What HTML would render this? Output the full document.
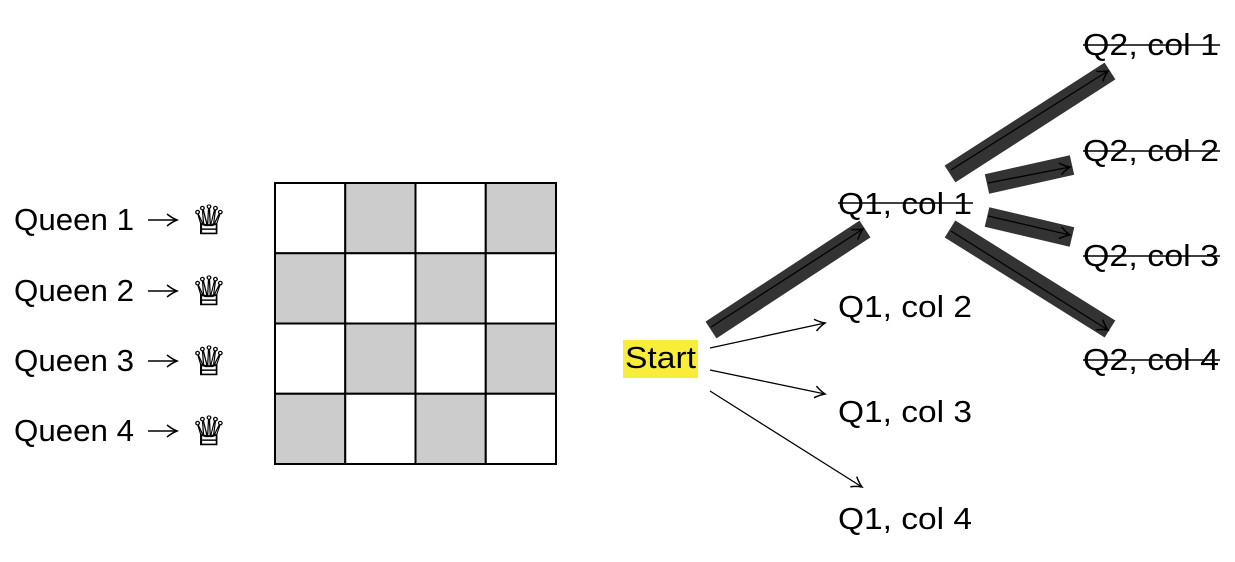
<!DOCTYPE html>
<html><head><meta charset="utf-8"><style>
html,body{margin:0;padding:0;background:#fff;}
svg{display:block;}
text{font-family:"Liberation Sans","DejaVu Sans",sans-serif;font-size:31px;fill:#000;}
.q{font-family:"DejaVu Sans",sans-serif;font-size:40px;stroke:#000;stroke-width:0.6;}
</style></head><body>
<svg width="1235" height="562" viewBox="0 0 1235 562" xmlns="http://www.w3.org/2000/svg">
<defs>
<marker id="a" markerWidth="14" markerHeight="14" refX="11" refY="7" orient="auto" markerUnits="userSpaceOnUse">
<path d="M1,1 Q6,5 11,7 Q6,9 1,13" fill="none" stroke="#000" stroke-width="1.5"/>
</marker>
</defs>
<!-- queen labels -->
<g>
<text x="14" y="230" textLength="120" lengthAdjust="spacingAndGlyphs">Queen 1</text>
<text x="14" y="301" textLength="120" lengthAdjust="spacingAndGlyphs">Queen 2</text>
<text x="14" y="371" textLength="120" lengthAdjust="spacingAndGlyphs">Queen 3</text>
<text x="14" y="441" textLength="120" lengthAdjust="spacingAndGlyphs">Queen 4</text>
</g>
<g stroke="#000" stroke-width="1.6" marker-end="url(#a)">
<line x1="148" y1="220" x2="177" y2="220"/>
<line x1="148" y1="291" x2="177" y2="291"/>
<line x1="148" y1="361" x2="177" y2="361"/>
<line x1="148" y1="431" x2="177" y2="431"/>
</g>
<text class="q" x="191" y="234">♕</text>
<text class="q" x="191" y="305">♕</text>
<text class="q" x="191" y="375">♕</text>
<text class="q" x="191" y="445">♕</text>
<!-- board -->
<g stroke="#000" stroke-width="2">
<rect x="275" y="183" width="70.25" height="70.25" fill="#fff"/>
<rect x="345.25" y="183" width="70.25" height="70.25" fill="#ccc"/>
<rect x="415.5" y="183" width="70.25" height="70.25" fill="#fff"/>
<rect x="485.75" y="183" width="70.25" height="70.25" fill="#ccc"/>
<rect x="275" y="253.25" width="70.25" height="70.25" fill="#ccc"/>
<rect x="345.25" y="253.25" width="70.25" height="70.25" fill="#fff"/>
<rect x="415.5" y="253.25" width="70.25" height="70.25" fill="#ccc"/>
<rect x="485.75" y="253.25" width="70.25" height="70.25" fill="#fff"/>
<rect x="275" y="323.5" width="70.25" height="70.25" fill="#fff"/>
<rect x="345.25" y="323.5" width="70.25" height="70.25" fill="#ccc"/>
<rect x="415.5" y="323.5" width="70.25" height="70.25" fill="#fff"/>
<rect x="485.75" y="323.5" width="70.25" height="70.25" fill="#ccc"/>
<rect x="275" y="393.75" width="70.25" height="70.25" fill="#ccc"/>
<rect x="345.25" y="393.75" width="70.25" height="70.25" fill="#fff"/>
<rect x="415.5" y="393.75" width="70.25" height="70.25" fill="#ccc"/>
<rect x="485.75" y="393.75" width="70.25" height="70.25" fill="#fff"/>
</g>
<!-- start -->
<rect x="623" y="340" width="75" height="38" fill="#f8ee3a"/>
<text x="625" y="368" textLength="71" lengthAdjust="spacingAndGlyphs">Start</text>
<!-- thick bands -->
<g stroke="#333" stroke-width="20" stroke-linecap="butt">
<line x1="711" y1="330" x2="865" y2="229"/>
<line x1="950" y1="174" x2="1110" y2="71"/>
<line x1="987" y1="184" x2="1072" y2="165"/>
<line x1="987" y1="217" x2="1072" y2="237"/>
<line x1="950" y1="229" x2="1110" y2="329"/>
</g>
<g stroke="#000" stroke-width="1.3" marker-end="url(#a)">
<line x1="711" y1="327" x2="863" y2="229"/>
<line x1="951" y1="170" x2="1108" y2="71"/>
<line x1="988" y1="183" x2="1070" y2="167"/>
<line x1="988" y1="216" x2="1070" y2="235"/>
<line x1="951" y1="231" x2="1108" y2="330"/>
<line x1="710" y1="348" x2="825" y2="323"/>
<line x1="710" y1="370" x2="825" y2="394"/>
<line x1="710" y1="391" x2="862" y2="487"/>
</g>
<!-- Q1 labels -->
<text x="838" y="214" textLength="134" lengthAdjust="spacingAndGlyphs">Q1, col 1</text>
<line x1="838" y1="203" x2="973" y2="203" stroke="#000" stroke-width="1.6"/>
<text x="838" y="317" textLength="134" lengthAdjust="spacingAndGlyphs">Q1, col 2</text>
<text x="838" y="422" textLength="134" lengthAdjust="spacingAndGlyphs">Q1, col 3</text>
<text x="838" y="529" textLength="134" lengthAdjust="spacingAndGlyphs">Q1, col 4</text>
<!-- Q2 labels -->
<text x="1083" y="55" textLength="136" lengthAdjust="spacingAndGlyphs">Q2, col 1</text>
<line x1="1083" y1="45" x2="1220" y2="45" stroke="#000" stroke-width="1.6"/>
<text x="1083" y="161" textLength="136" lengthAdjust="spacingAndGlyphs">Q2, col 2</text>
<line x1="1083" y1="151" x2="1220" y2="151" stroke="#000" stroke-width="1.6"/>
<text x="1083" y="266" textLength="136" lengthAdjust="spacingAndGlyphs">Q2, col 3</text>
<line x1="1083" y1="256" x2="1220" y2="256" stroke="#000" stroke-width="1.6"/>
<text x="1083" y="370" textLength="136" lengthAdjust="spacingAndGlyphs">Q2, col 4</text>
<line x1="1083" y1="360" x2="1220" y2="360" stroke="#000" stroke-width="1.6"/>
</svg>
</body></html>
